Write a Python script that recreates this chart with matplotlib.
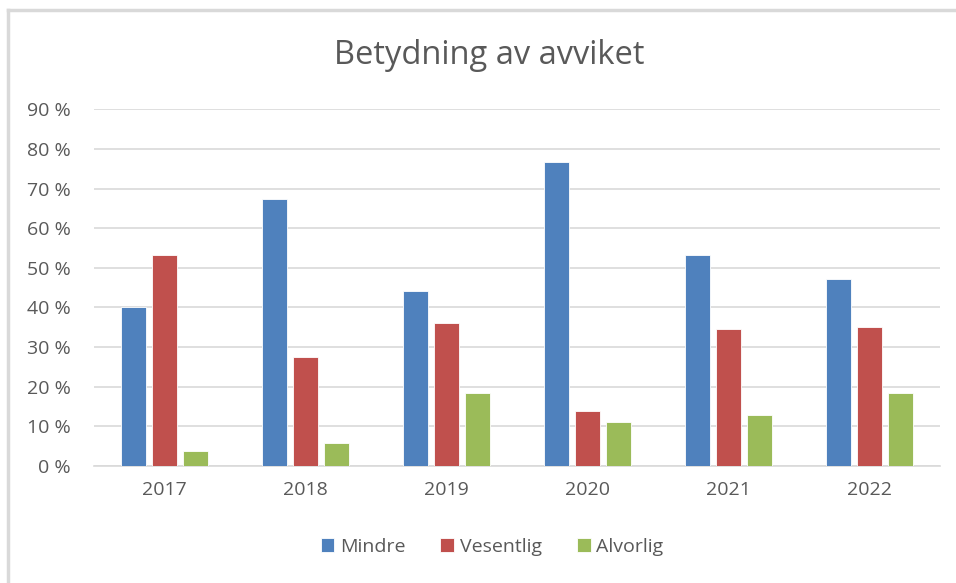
import matplotlib
matplotlib.use("Agg")
import matplotlib.pyplot as plt
from matplotlib.lines import Line2D
import numpy as np

years = ["2017", "2018", "2019", "2020", "2021", "2022"]
series_names = ["Mindre", "Vesentlig", "Alvorlig"]
mindre = [40.0, 67.4, 44.2, 76.6, 53.3, 47.2]
vesentlig = [53.3, 27.4, 36.0, 13.8, 34.6, 35.1]
alvorlig = [3.7, 5.7, 18.3, 11.2, 12.8, 18.3]
yticks = [0, 10, 20, 30, 40, 50, 60, 70, 80, 90]

colors = ["#4f81bd", "#c0504d", "#9bbb59"]
text_color = "#595959"
plt.rcParams["font.family"] = ["Open Sans", "DejaVu Sans"]

fig = plt.figure(figsize=(9.56, 5.83), dpi=100)
ax = fig.add_axes([94/956, 1 - 466/583, (940-94)/956, (466-109.3)/583])

x = np.arange(len(years))
width = 0.18
offset = 0.22
handles = []
for i, (vals, name) in enumerate(zip([mindre, vesentlig, alvorlig], series_names)):
    b = ax.bar(x + (i - 1) * offset, vals, width, color=colors[i], label=name,
               edgecolor="white", linewidth=0.6, zorder=3)
    handles.append(b)

ax.set_xlim(-0.5, len(years) - 0.5)
ax.set_ylim(0, 90)
ax.set_yticks(yticks)
ax.set_yticklabels([f"{v} %" for v in yticks])
ax.set_xticks(x)
ax.set_xticklabels(years)
ax.yaxis.grid(True, color="#d9d9d9", linewidth=1.2, zorder=0)
ax.set_axisbelow(True)
for s in ["top", "right", "left"]:
    ax.spines[s].set_visible(False)
ax.spines["bottom"].set_color("#d9d9d9")
ax.spines["bottom"].set_linewidth(1.2)
ax.tick_params(axis="both", length=0, colors=text_color, labelsize=14)
ax.tick_params(axis="y", pad=17)
ax.tick_params(axis="x", pad=11)

fig.text(0.512, 1 - 55/583, "Betydning av avviket", ha="center", va="center",
         fontsize=23.5, color=text_color)

fig.legend(handles=handles, labels=series_names, loc="center",
           bbox_to_anchor=(492/956, 1 - 547/583), ncol=3, frameon=False,
           fontsize=14, labelcolor=text_color, handlelength=0.7, handleheight=0.7,
           handletextpad=0.3, columnspacing=1.8)

# chart border (left and top edges visible)
fig.add_artist(Line2D([8/956, 8/956], [0, 1 - 10/583], transform=fig.transFigure,
                      color="#d9d9d9", linewidth=2.5))
fig.add_artist(Line2D([8/956, 1], [1 - 10/583, 1 - 10/583], transform=fig.transFigure,
                      color="#d9d9d9", linewidth=2.5))

fig.savefig("out.png", dpi=100)
